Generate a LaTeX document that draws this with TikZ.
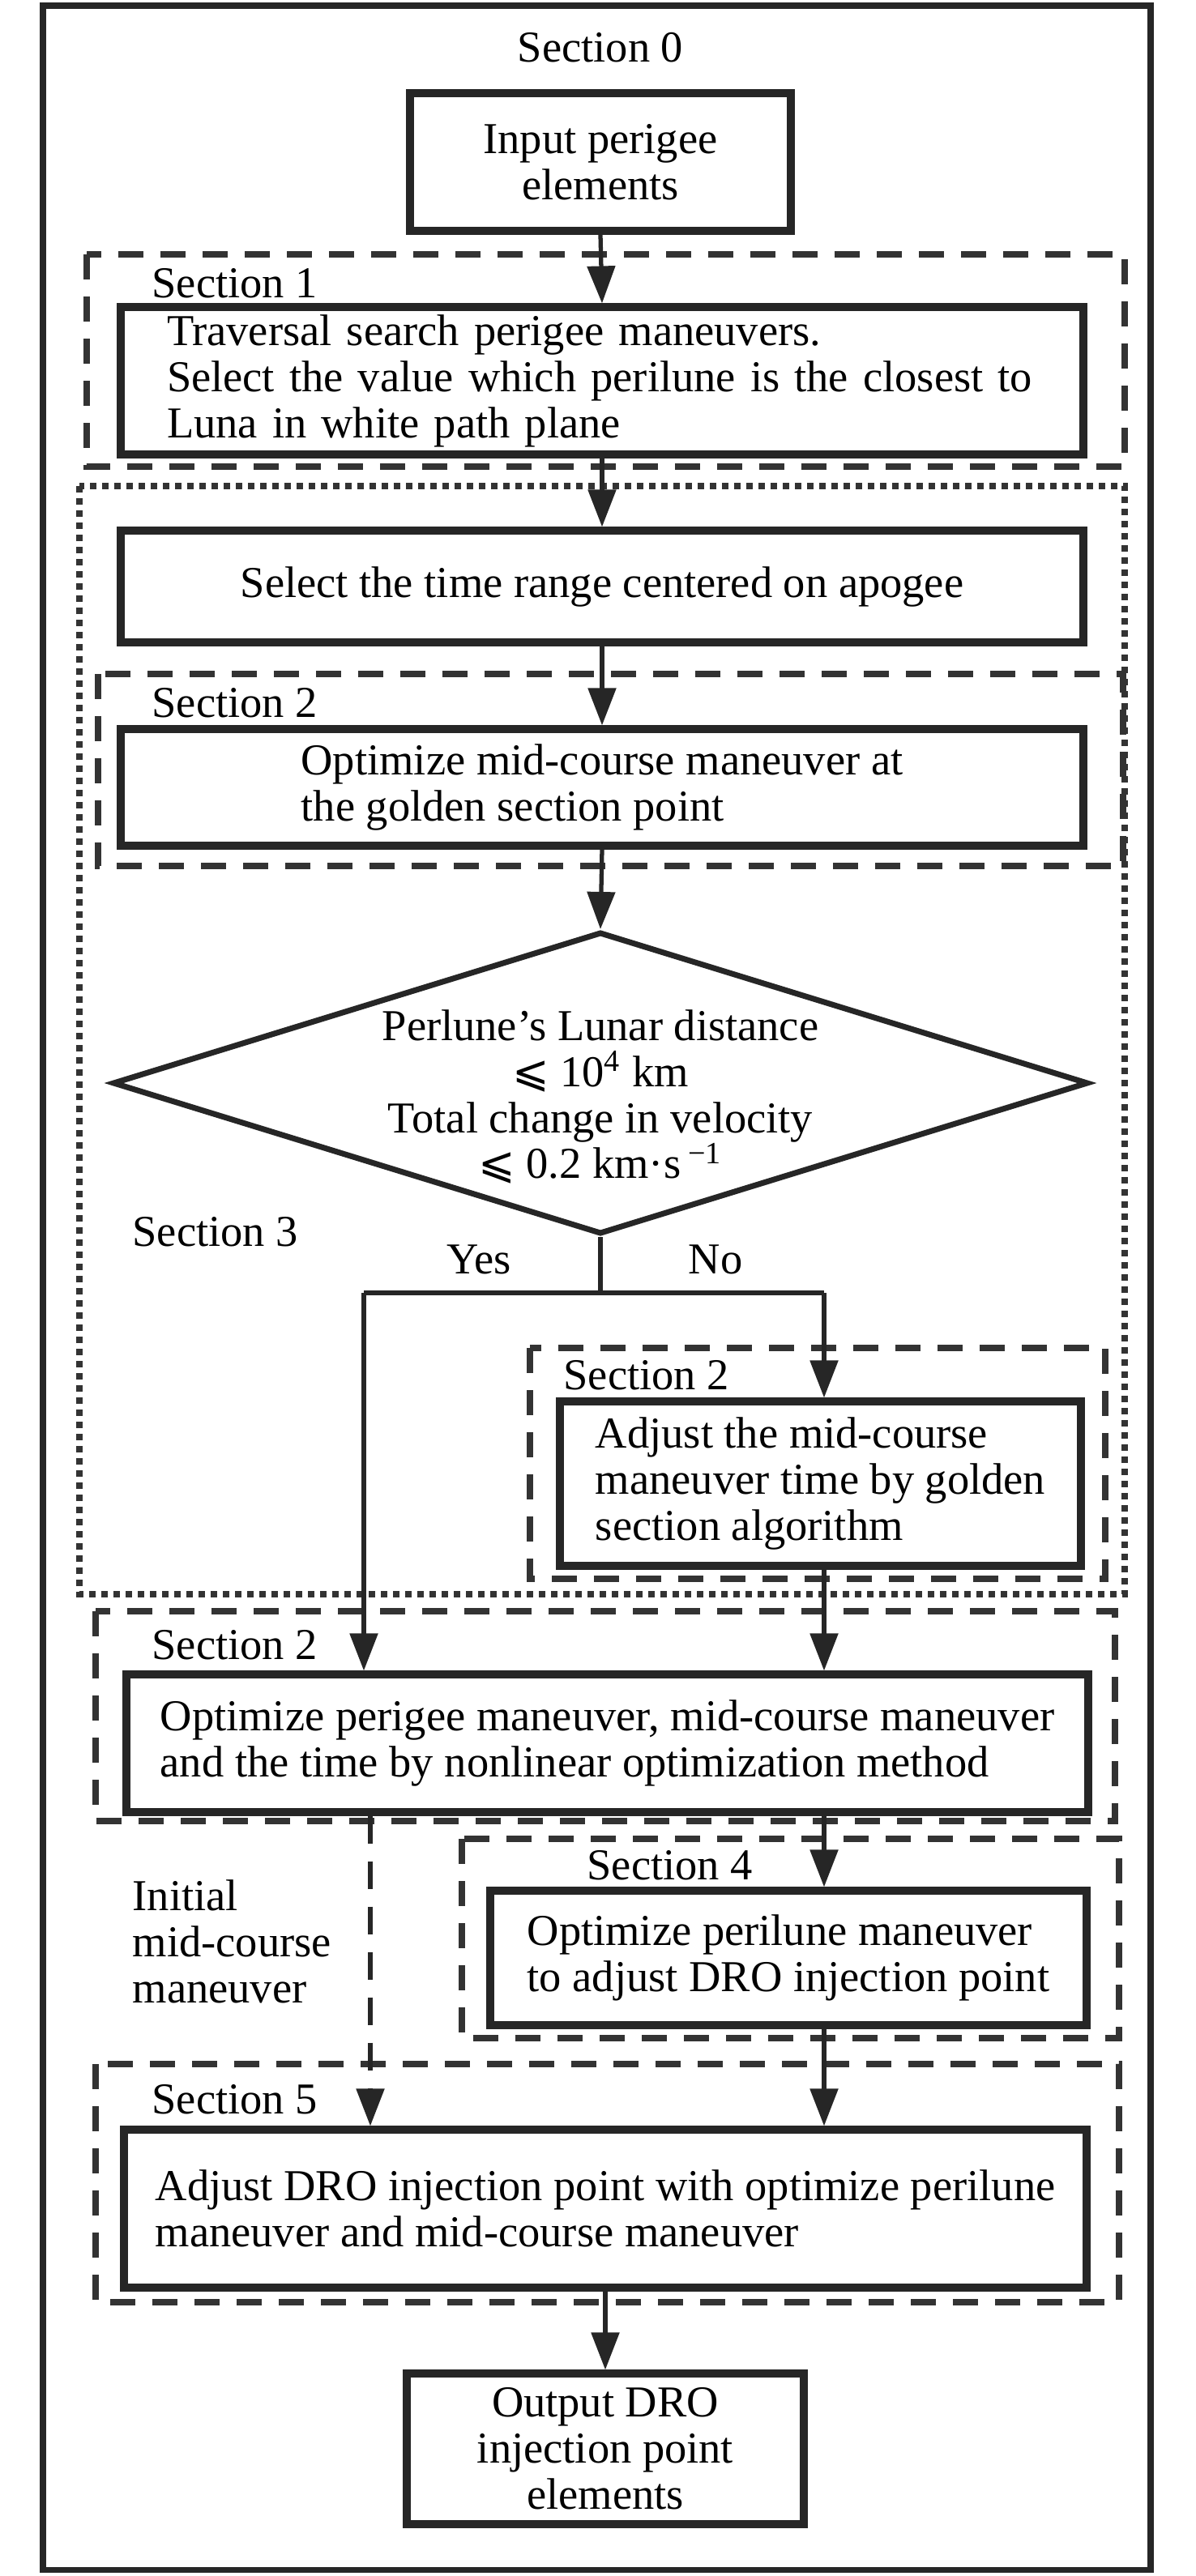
\documentclass[tikz,border=0pt]{standalone}
\usepackage{fontspec}
\setmainfont{Liberation Serif}
\newfontfamily\symfont{DejaVu Sans}
\usetikzlibrary{arrows.meta,shapes.geometric}

\tikzset{
  box/.style={draw=black!85, line width=2.6pt, inner sep=0pt, align=center},
  leftbox/.style={box, align=left},
  section/.style={draw=black!80, line width=2.2pt, dash pattern=on 0.31cm off 0.21cm},
  region/.style={draw=black!80, line width=2.4pt, dash pattern=on 0.08cm off 0.07cm},
  decision/.style={draw=black!85, diamond, line width=2pt, inner sep=0pt, minimum width=12.04cm, minimum height=3.73cm},
  link/.style={draw=black!85, line width=1.5pt},
  flow/.style={link, -{Triangle[length=0.46cm,width=0.34cm]}},
  label text/.style={anchor=west, inner sep=0pt},
}

\begin{document}
\begin{tikzpicture}[font=\fontsize{15.5}{16.2}\selectfont]
            \useasboundingbox (0,0) rectangle (14.76,-31.80);
            \draw[draw=black!85, line width=2pt] (0.53,-0.07) rectangle (14.20,-31.72);
            \coordinate (LeftCol) at (4.49,0);
            \coordinate (InitCol) at (4.57,0);
            \coordinate (RightCol) at (10.17,0);

            \node (Section0) at (7.41,-0.59) {Section 0};
            \node[box, minimum width=4.70cm, minimum height=1.70cm] (Input) at (7.41,-2.00) {Input perigee\\elements};

            \draw[section] (1.07,-3.14) rectangle (13.88,-5.76);
            \node[label text] (Section1) at (1.87,-3.50) {Section 1};
            \node[leftbox, minimum width=11.88cm, minimum height=1.82cm, text width=10.74cm] (Traversal) at (7.43,-4.70) {Traversal search perigee maneuvers.\\
                    Select the value which perilune is the closest to\\
                    Luna in white path plane};

            \draw[region] (0.98,-6.00) rectangle (13.88,-19.68);
            \node[box, minimum width=11.88cm, minimum height=1.38cm] (Range) at (7.43,-7.24) {Select the time range centered on apogee};

            \draw[section] (1.21,-8.32) rectangle (13.86,-10.69);
            \node[label text] (Section2a) at (1.87,-8.68) {Section 2};
            \node[leftbox, minimum width=11.88cm, minimum height=1.44cm] (Golden) at (7.43,-9.72) {Optimize mid-course maneuver at\\the golden section point};

            \node[decision] (Check) at (7.41,-13.37) {};
            \node[align=center, inner sep=0pt] (CheckText) at (7.41,-13.54) {Perlune’s Lunar distance\\
                    {\symfont ⩽} 10\textsuperscript{4} km\\
                    Total change in velocity\\
                    {\symfont ⩽} 0.2 km·s\,\textsuperscript{−1}};
            \node[label text] (Section3) at (1.63,-15.21) {Section 3};
            \node (Yes) at (5.91,-15.55) {Yes};
            \node (No) at (8.83,-15.55) {No};

            \draw[section] (6.54,-16.64) rectangle (13.64,-19.49);
            \node[label text] (Section2b) at (6.95,-16.98) {Section 2};
            \node[leftbox, minimum width=6.43cm, minimum height=2.03cm] (Adjust) at (10.125,-18.315) {Adjust the mid-course\\maneuver time by golden\\section algorithm};

            \draw[section] (1.18,-19.89) rectangle (13.76,-22.48);
            \node[label text] (Section2c) at (1.87,-20.31) {Section 2};
            \node[leftbox, minimum width=11.87cm, minimum height=1.70cm] (Nonlinear) at (7.495,-21.52) {Optimize perigee maneuver, mid-course maneuver\\and the time by nonlinear optimization method};

            \draw[section] (5.70,-22.70) rectangle (13.81,-25.16);
            \node[label text] (Section4) at (7.24,-23.03) {Section 4};
            \node[leftbox, minimum width=7.36cm, minimum height=1.66cm] (Perilune) at (9.73,-24.17) {Optimize perilune maneuver\\to adjust DRO injection point};
            \node[label text, align=left] (Initial) at (1.63,-23.97) {Initial\\mid-course\\maneuver};

            \draw[section] (1.18,-25.48) rectangle (13.81,-28.42);
            \node[label text] (Section5) at (1.87,-25.92) {Section 5};
            \node[leftbox, minimum width=11.88cm, minimum height=1.95cm] (Injection) at (7.47,-27.265) {Adjust DRO injection point with optimize perilune\\maneuver and mid-course maneuver};

            \node[box, minimum width=4.90cm, minimum height=1.86cm] (Output) at (7.47,-30.23) {Output DRO\\injection point\\elements};

            \draw[flow] (Input.south) -- (Traversal.north);
            \draw[flow] (Traversal.south) -- (Range.north);
            \draw[flow] (Range.south) -- (Golden.north);
            \draw[flow] (Golden.south) -- (Check.north);
            \draw[link] (Check.south) -- ++(0,-0.69) coordinate (Split);
            \draw[link] (LeftCol |- Split) -- (RightCol |- Split);
            \draw[flow] (LeftCol |- Split) -- (LeftCol |- Nonlinear.north);
            \draw[flow] (RightCol |- Split) -- (RightCol |- Adjust.north);
            \draw[flow] (RightCol |- Adjust.south) -- (RightCol |- Nonlinear.north);
            \draw[flow] (RightCol |- Nonlinear.south) -- (RightCol |- Perilune.north);
            \draw[flow, dash pattern=on 0.34cm off 0.22cm] (InitCol |- Nonlinear.south) -- (InitCol |- Injection.north);
            \draw[flow] (RightCol |- Perilune.south) -- (RightCol |- Injection.north);
            \draw[flow] (Injection.south) -- (Output.north);

        \end{tikzpicture}
\end{document}
